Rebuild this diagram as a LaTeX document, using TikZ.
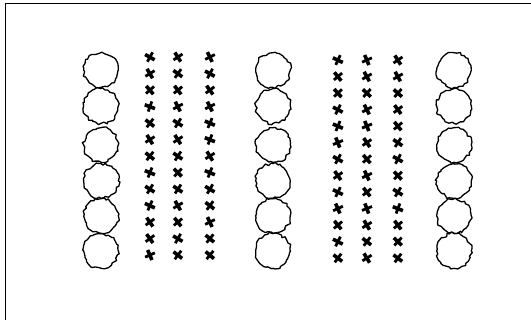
\documentclass[tikz,border=0pt]{standalone}
\usepackage{tikz}
\usetikzlibrary{decorations.pathmorphing}

\tikzset{
	tree/.style={circle, draw, line width=1.3pt, minimum size=34.5pt, inner sep=0pt,
		decorate, decoration={random steps, segment length=2.8pt, amplitude=1.4pt}},
	seedling/.pic={
		\draw[line width=3.6pt] (-4,-3.8) -- (3.6,4);
		\draw[line width=2.8pt] (-3.8,3.8) -- (3.8,-3.8);
	}
}

\begin{document}
\begin{tikzpicture}[x=1pt, y=-1pt, line join=round]
	\pgfmathsetseed{11}
	\useasboundingbox (0,0) rectangle (531,320);
	\draw[line width=1.5pt] (5.5,320) -- (5.5,3.5) -- (531,3.5);
	\foreach \x/\c in {101/a, 273/b, 454/c}
		\foreach \y [count=\i] in {70,106,145,181,216,251}
			\node[tree] (tree-\c\i) at (\x,\y) {};
	\foreach \x/\ystart in {150/57, 178/57, 210/57, 338/60, 367/60, 398/60}
		\foreach \k in {0,...,12}
			\pic[rotate={rnd*50-25}] at (\x,{\ystart+16.5*\k}) {seedling};
\end{tikzpicture}
\end{document}
